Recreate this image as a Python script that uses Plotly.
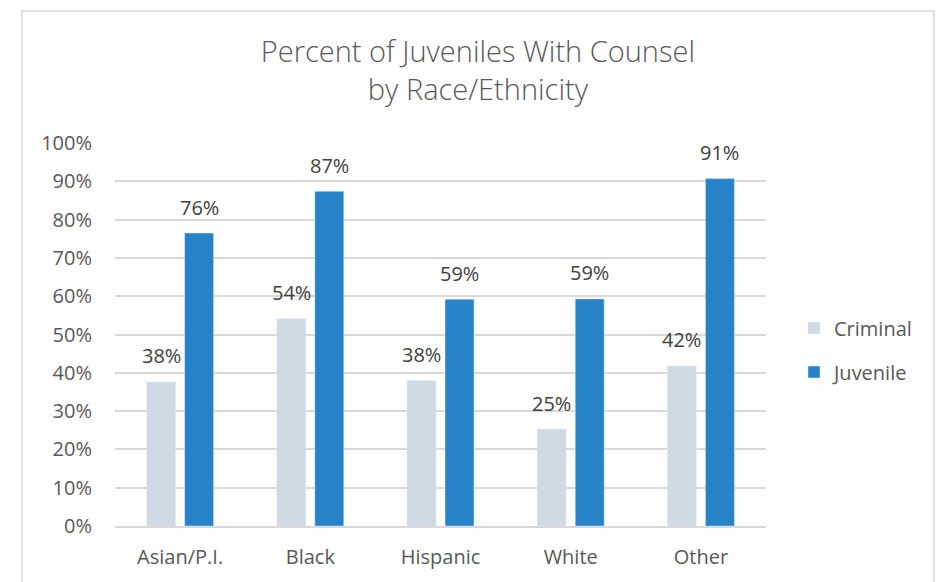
import plotly.graph_objects as go

categories = ["Asian/P.I.", "Black", "Hispanic", "White", "Other"]
criminal = [37.6, 54.1, 38.0, 25.3, 41.8]
juvenile = [76.5, 87.4, 59.2, 59.3, 90.7]
tick_vals = [0, 10, 20, 30, 40, 50, 60, 70, 80, 90, 100]
tick_text = [f"{v}%" for v in tick_vals]

FONT = "Open Sans"
GRAY = "#595959"
LABEL = "#404040"

fig = go.Figure()
fig.add_trace(go.Bar(name="Criminal", x=categories, y=criminal,
                     marker=dict(color="#CFDAE5"), legendgroup="c"))
fig.add_trace(go.Bar(name="Juvenile", x=categories, y=juvenile,
                     marker=dict(color="#2783C8"), legendgroup="j"))

annotations = []
for series, shift in ((criminal, -19), (juvenile, 19)):
    for cat, v in zip(categories, series):
        annotations.append(dict(x=cat, y=v, xref="x", yref="y",
                                text=f"{round(v)}%", showarrow=False,
                                xshift=shift, yshift=26, yanchor="middle",
                                font=dict(family=FONT, size=20, color=LABEL)))

fig.update_layout(
    width=951, height=582,
    margin=dict(l=115, r=185, t=143, b=56, autoexpand=False),
    paper_bgcolor="white", plot_bgcolor="white",
    barmode="group", bargap=0.416, bargroupgap=0.237,
    title=dict(text="Percent of Juveniles With Counsel<br>by Race/Ethnicity",
               x=0.5025, xanchor="center", y=0.8935, yanchor="middle",
               font=dict(family=FONT, size=29, color=GRAY, weight=300)),
    font=dict(family=FONT, color=GRAY),
    showlegend=True,
    legend=dict(x=1.043, y=0.4595, xanchor="left", yanchor="middle",
                traceorder="grouped", tracegroupgap=15,
                font=dict(family=FONT, size=20, color=GRAY),
                itemwidth=30, bgcolor="rgba(0,0,0,0)"),
    xaxis=dict(showline=True, linecolor="#D9D9D9", linewidth=2,
               tickfont=dict(family=FONT, size=20, color=GRAY),
               ticks="", showgrid=False, automargin=False,
               ticklabelstandoff=12),
    yaxis=dict(range=[0, 100], tickvals=tick_vals, ticktext=tick_text,
               showgrid=True, gridcolor="#D9D9D9", gridwidth=2,
               zeroline=False, showline=False, ticks="", ticklen=0,
               automargin=False, ticklabelstandoff=22,
               tickfont=dict(family=FONT, size=20, color=GRAY)),
    annotations=annotations,
    shapes=[dict(type="rect", xref="paper", yref="paper",
                 x0=-0.1429, x1=1.258, y0=-0.2, y1=1.3446,
                 line=dict(color="#D9D9D9", width=1.5), layer="below")],
)

fig.write_html("out.html", config={"displayModeBar": False},
               post_script="document.body.style.margin='0';")
